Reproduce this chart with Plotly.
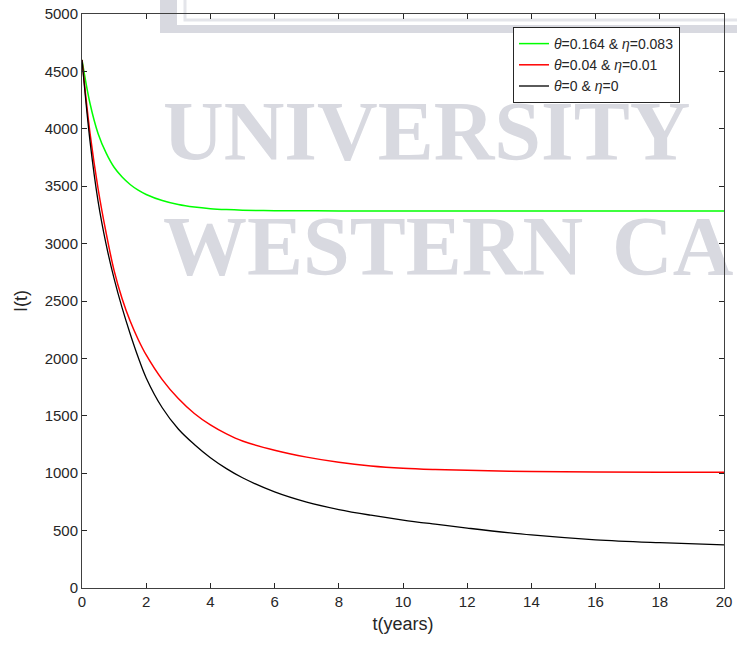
import plotly.graph_objects as go

# Time axis (years) and I(t) for the three parameter settings
t = [0, 0.25, 0.5, 0.75, 1, 1.25, 1.5, 1.75, 2,
     2.5, 3, 3.5, 4, 4.5, 5,
     6, 7, 8, 9, 10, 11, 12,
     14, 16, 18, 20]
i_green = [4600, 4220, 3960, 3790, 3665, 3580, 3515, 3465, 3428,
           3375, 3340, 3318, 3304, 3296, 3291,
           3287, 3286, 3285, 3285, 3285, 3285, 3285,
           3285, 3285, 3285, 3285]
i_red = [4600, 3960, 3480, 3095, 2765, 2520, 2325, 2165, 2030,
         1815, 1650, 1520, 1420, 1342, 1280,
         1200, 1140, 1095, 1063, 1043, 1032, 1025,
         1015, 1010, 1008, 1008]
i_black = [4600, 3890, 3370, 2995, 2695, 2440, 2215, 2010, 1830,
           1570, 1385, 1250, 1135, 1040, 960,
           837, 748, 683, 634, 592, 556, 522,
           462, 420, 395, 376]

labels = ["<i>θ</i>=0.164 &amp; <i>η</i>=0.083",
          "<i>θ</i>=0.04 &amp; <i>η</i>=0.01",
          "<i>θ</i>=0 &amp; <i>η</i>=0"]
colors = ["#00ff00", "#ff0000", "#000000"]
widths = [1.5, 1.5, 1.3]

W, H = 737, 649
L, R, T, B = 82, 13, 14, 61
PW, PH = W - L - R, H - T - B


def px(x):
    return (x - L) / PW


def py(y):
    return (H - B - y) / PH


fig = go.Figure()
for ys, name, c, w in zip([i_green, i_red, i_black], labels, colors, widths):
    fig.add_trace(go.Scatter(x=t, y=ys, mode="lines", name=name,
                             line=dict(color=c, width=w, shape="spline", smoothing=1.0)))

# Background watermark: frame bar and lettering, kept beneath the curves
wm = "#d8d9e0"
shapes = [
    dict(type="rect", xref="paper", yref="paper", layer="below",
         x0=px(160), x1=px(760), y0=py(33), y1=py(-10),
         line=dict(width=0), fillcolor=wm),
    dict(type="rect", xref="paper", yref="paper", layer="below",
         x0=px(177), x1=px(760), y0=py(25), y1=py(-10),
         line=dict(width=0), fillcolor="white"),
    dict(type="rect", xref="paper", yref="paper", layer="below",
         x0=px(185), x1=px(760), y0=py(20), y1=py(-10),
         line=dict(color="#e4e5ea", width=3), fillcolor="rgba(0,0,0,0)"),
]
words = [("UNIVERSITY", 160, 700, 90, 154),
         ("WESTERN", 160, 575, 205, 269),
         ("CA", 609, 740, 205, 269)]
for txt, x0, x1, y0, y1 in words:
    shapes.append(dict(type="rect", xref="paper", yref="paper", layer="below",
                       x0=px(x0), x1=px(x1), y0=py(y1), y1=py(y0),
                       line=dict(width=0), fillcolor="rgba(0,0,0,0)",
                       label=dict(text=txt, textposition="middle left", padding=0,
                                  font=dict(family="Liberation Serif", size=84, color=wm,
                                            weight="bold"))))

axis_common = dict(showline=True, linecolor="#404040", linewidth=1, mirror="ticks",
                   ticks="inside", ticklen=5, tickcolor="#262626", showgrid=False,
                   zeroline=False, automargin=False,
                   tickfont=dict(family="Liberation Sans", size=15, color="#262626"),
                   title_font=dict(family="Liberation Sans", size=18, color="#262626"))

fig.update_layout(
    width=W, height=H,
    margin=dict(l=L, r=R, t=T, b=B),
    paper_bgcolor="white", plot_bgcolor="rgba(0,0,0,0)",
    shapes=shapes,
    xaxis=dict(range=[0, 20], tickvals=list(range(0, 21, 2)), title=dict(text="t(years)", standoff=8),
               **axis_common),
    yaxis=dict(range=[0, 5000], tickvals=list(range(0, 5001, 500)), title=dict(text="I(t)", standoff=12),
               **axis_common),
    legend=dict(x=px(513), y=py(27), xanchor="left", yanchor="top",
                bgcolor="white", bordercolor="#262626", borderwidth=1,
                font=dict(family="Liberation Sans", size=14, color="#262626")),
    showlegend=True,
)

fig.write_html("out.html")
